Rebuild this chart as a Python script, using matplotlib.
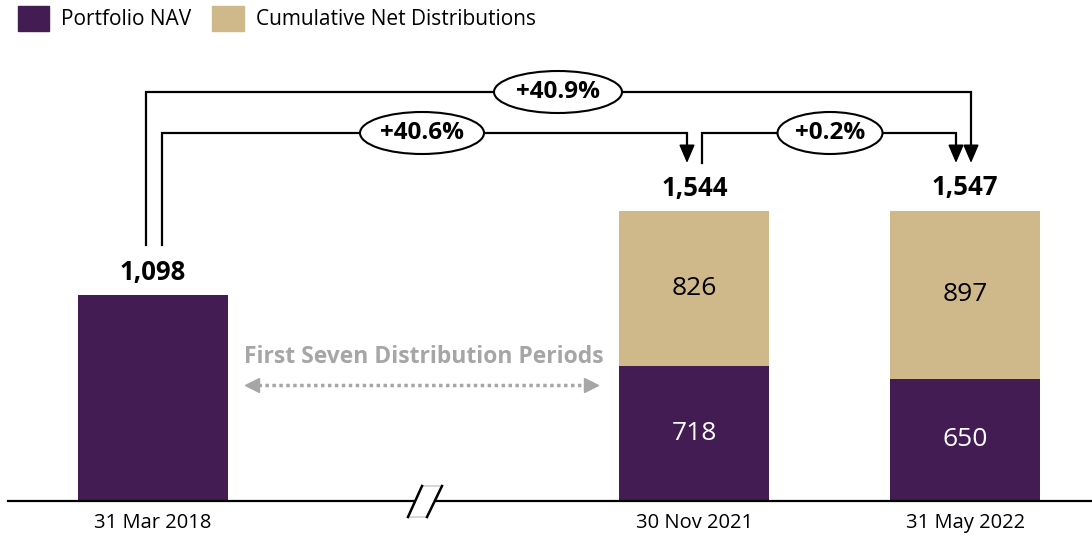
import matplotlib
matplotlib.use("Agg")
import matplotlib.pyplot as plt
from matplotlib.patches import Ellipse, Polygon, Patch

plt.rcParams['font.family'] = ['Open Sans', 'DejaVu Sans']

# data
dates = ["31 Mar 2018", "30 Nov 2021", "31 May 2022"]
x_pos = [0, 2, 3]
nav = [1098, 718, 650]
distributions = [0, 826, 897]
totals = ["1,098", "1,544", "1,547"]
changes = ["+40.9%", "+40.6%", "+0.2%"]

purple = "#431C53"
tan = "#CFB98A"
grey = "#A6A6A6"

fig = plt.figure(figsize=(10.92, 5.39), dpi=100)
ax = fig.add_axes([0, 38 / 539, 1, 501 / 539])


def px(x):
    return (x - 153) / 270.75


def py(y):
    return (501 - y) / 0.1877


ax.set_xlim(px(0), px(1092))
ax.set_ylim(0, py(0))
ax.axis("off")

width = 150 / 270.75
ax.bar(x_pos, nav, width=width, color=purple, zorder=2)
ax.bar(x_pos, distributions, bottom=nav, width=width, color=tan, zorder=2)

# baseline
ax.plot([px(8), px(1092)], [0, 0], color="black", lw=1.6, clip_on=False, zorder=3)

# value labels
for i in range(3):
    top = nav[i] + distributions[i]
    ax.text(x_pos[i], top + 122, totals[i], ha="center", va="center",
            fontsize=18.5, fontweight="bold")
    if distributions[i] > 0:
        ax.text(x_pos[i], nav[i] / 2, str(nav[i]), ha="center", va="center",
                fontsize=19, color="white", zorder=4)
        ax.text(x_pos[i], nav[i] + distributions[i] / 2, str(distributions[i]),
                ha="center", va="center", fontsize=19, color="black", zorder=4)

# brackets with arrows: left x, start y, top y, right x, tip y, ellipse centre x, ellipse width
brackets = [
    (146, 245, 92, 971, 163, 558, 128),
    (162, 245, 133, 687, 163, 422, 124),
    (702, 163, 133, 956, 163, 830, 105),
]
for (x0, y0, ytop, x1, ytip, xc, ew), label in zip(brackets, changes):
    ax.plot([px(x0), px(x0), px(x1), px(x1)], [py(y0), py(ytop), py(ytop), py(ytip - 10)],
            color="black", lw=1.6, zorder=3, solid_joinstyle="miter")
    ax.annotate("", xy=(px(x1), py(ytip)), xytext=(px(x1), py(ytip - 14)),
                arrowprops=dict(arrowstyle="-|>,head_length=0.7,head_width=0.3",
                                color="black", lw=1.2,
                                mutation_scale=16, shrinkA=0, shrinkB=0), zorder=3)
    ax.add_patch(Ellipse((px(xc), py(ytop)), ew / 270.75, 42 / 0.1877,
                         facecolor="white", edgecolor="black", lw=1.5, zorder=5))
    ax.text(px(xc), py(ytop), label, ha="center", va="center", fontsize=17.5,
            fontweight="bold", zorder=6)

# grey annotation
ax.text(px(424), py(357), "First Seven Distribution Periods", ha="center", va="center",
        fontsize=16.5, fontweight="bold", color=grey)
ax.plot([px(258), px(585)], [py(385), py(385)], color=grey, lw=2.5,
        linestyle=(0, (1, 1)), zorder=3)
ax.plot([px(252)], [py(385)], marker="<", color=grey, markersize=10, zorder=3)
ax.plot([px(591)], [py(385)], marker=">", color=grey, markersize=10, zorder=3)

# axis break
ax.add_patch(Polygon([(px(408), py(517)), (px(422), py(486)), (px(442), py(486)), (px(427), py(517))],
                     closed=True, facecolor="white", edgecolor="#C8C8C8", lw=1,
                     clip_on=False, zorder=4))
ax.plot([px(408), px(422)], [py(517), py(486)], color="black", lw=1.8, clip_on=False, zorder=5)
ax.plot([px(427), px(442)], [py(517), py(486)], color="black", lw=1.8, clip_on=False, zorder=5)

# tick labels
for i in range(3):
    ax.text(x_pos[i], py(523), dates[i], ha="center", va="center", fontsize=14.5,
            clip_on=False)

handles = [Patch(color=purple), Patch(color=tan)]
fig.legend(handles, ["Portfolio NAV", "Cumulative Net Distributions"], loc="upper left",
           bbox_to_anchor=(-0.001, 1.024), ncol=2, frameon=False, fontsize=15,
           handlelength=1.5, handleheight=1.5, handletextpad=0.6, columnspacing=1.0)

fig.savefig("out.png", dpi=100)
